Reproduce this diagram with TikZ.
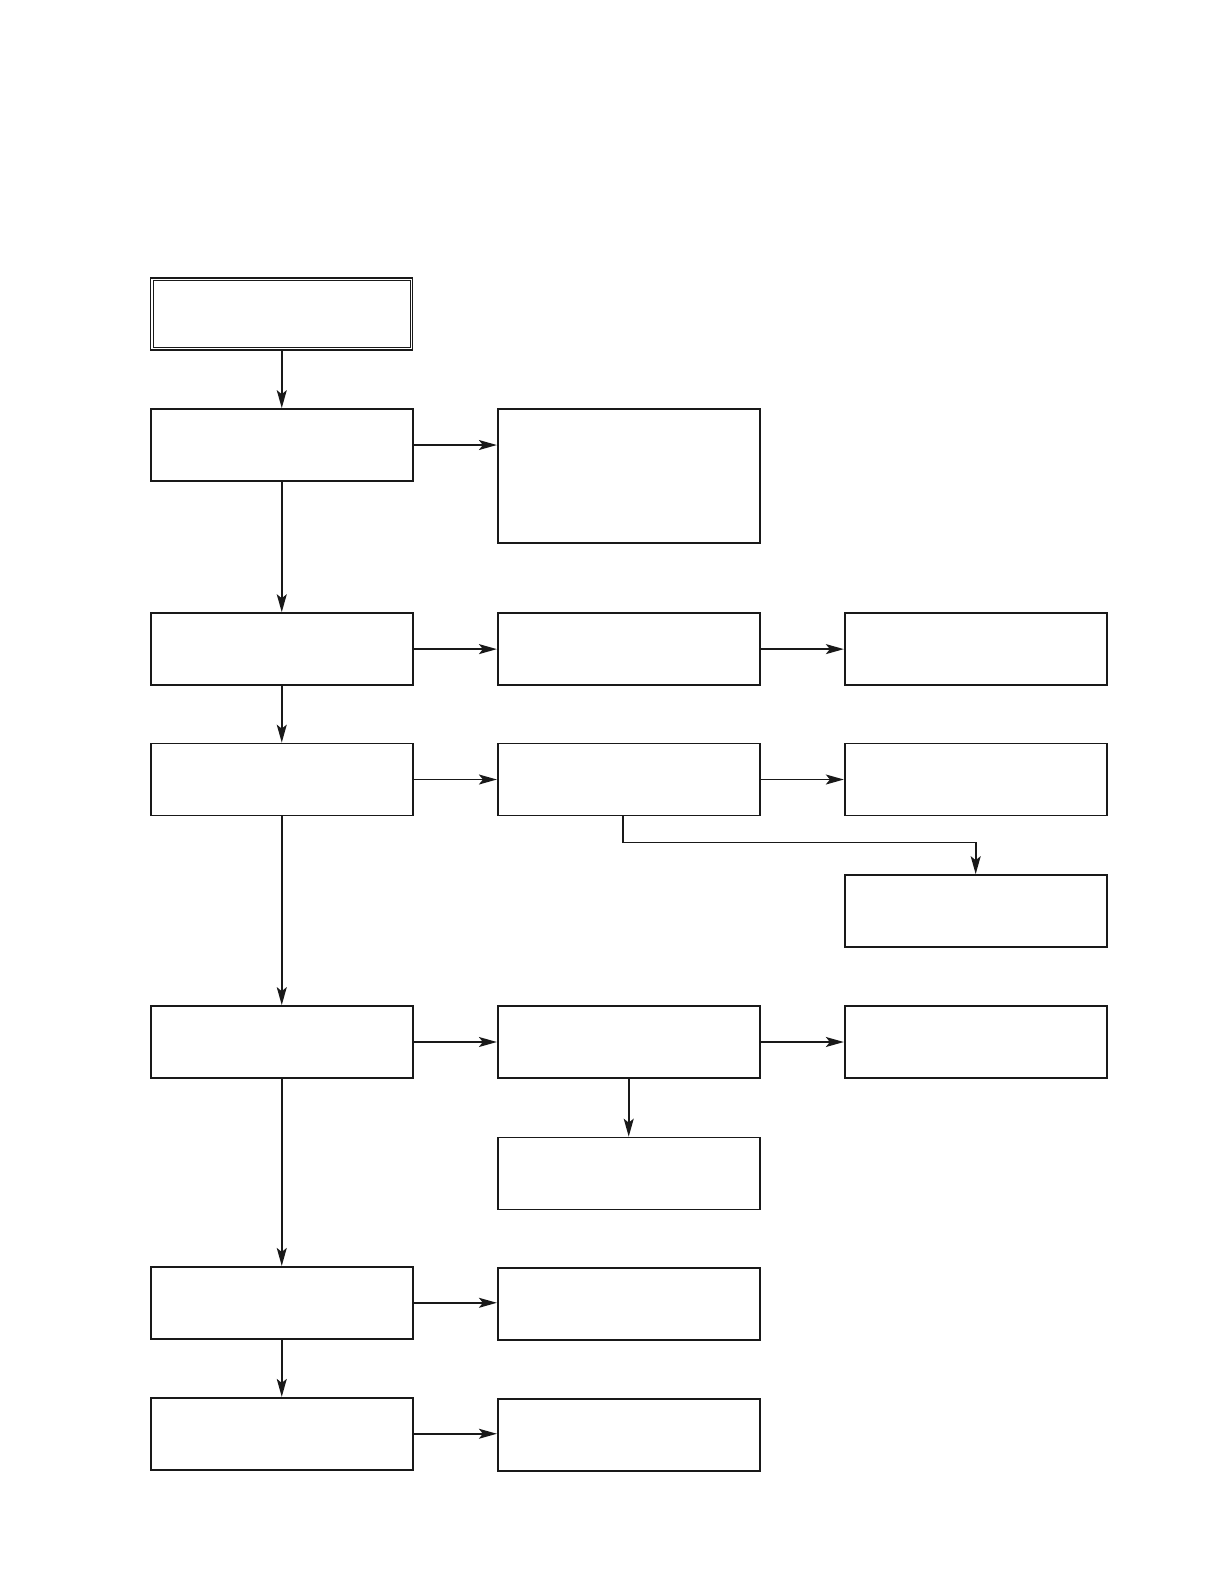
\documentclass[tikz,border=0pt]{standalone}
\usetikzlibrary{positioning, calc, arrows.meta}

\begin{document}
\begin{tikzpicture}[>={Stealth[length=9pt, width=5pt, inset=2pt]}, line width=0.9pt]

% ------------------- 定义样式 -------------------
\tikzstyle{box} = [draw=black!90, rectangle, fill=white, minimum width=4.62cm, minimum height=1.27cm, inner sep=0]
\tikzstyle{startbox} = [box, line width=0.6pt]
\tikzstyle{flowline} = [->, black!90]

% 页面边界
\useasboundingbox (0,0) rectangle (21.59,27.94);

% ------------------- 第一列 -------------------
\node[startbox] (Start) at (4.97, 22.40) {};
\draw[line width=0.6pt, black!90] ([shift={(1.6pt,-1.6pt)}]Start.north west) rectangle ([shift={(-1.6pt,1.6pt)}]Start.south east);
\node[box] (A1) at (4.97, 20.09) {};
\node[box] (B1) at (4.97, 16.49) {};
\node[box] (C1) at (4.97, 14.19) {};
\node[box] (E1) at (4.97, 9.56) {};
\node[box] (G1) at (4.97, 4.96) {};
\node[box] (H1) at (4.97, 2.65) {};

% ------------------- 第二列 -------------------
\node[box, minimum height=2.36cm] (A2) at (11.09, 19.54) {};
\node[box] (B2) at (11.09, 16.49) {};
\node[box] (C2) at (11.09, 14.19) {};
\node[box] (E2) at (11.09, 9.56) {};
\node[box] (F2) at (11.09, 7.24) {};
\node[box] (G2) at (11.09, 4.94) {};
\node[box] (H2) at (11.09, 2.63) {};

% ------------------- 第三列 -------------------
\node[box] (B3) at (17.21, 16.49) {};
\node[box] (C3) at (17.21, 14.19) {};
\node[box] (D3) at (17.21, 11.87) {};
\node[box] (E3) at (17.21, 9.56) {};

% ------------------- 连线 -------------------

% 1. 主干 (竖向)
\draw[flowline] (Start.south) -- (A1.north);
\draw[flowline] (A1.south) -- (B1.north);
\draw[flowline] (B1.south) -- (C1.north);
\draw[flowline] (C1.south) -- (E1.north);
\draw[flowline] (E1.south) -- (G1.north);
\draw[flowline] (G1.south) -- (H1.north);

% 2. 第一列 -> 第二列
\draw[flowline] (A1.east) -- (A1.east -| A2.west);
\draw[flowline] (B1.east) -- (B2.west);
\draw[flowline] (C1.east) -- (C2.west);
\draw[flowline] (E1.east) -- (E2.west);
\draw[flowline] (G1.east) -- (G1.east -| G2.west);
\draw[flowline] (H1.east) -- (H1.east -| H2.west);

% 3. 第二列 -> 第三列
\draw[flowline] (B2.east) -- (B3.west);
\draw[flowline] (C2.east) -- (C3.west);
\draw[flowline] (E2.east) -- (E3.west);

% 4. 分支
\draw[flowline] ([xshift=-1mm]C2.south) -- ++(0,-0.46) -| (D3.north);
\draw[flowline] (E2.south) -- (F2.north);

\end{tikzpicture}
\end{document}
